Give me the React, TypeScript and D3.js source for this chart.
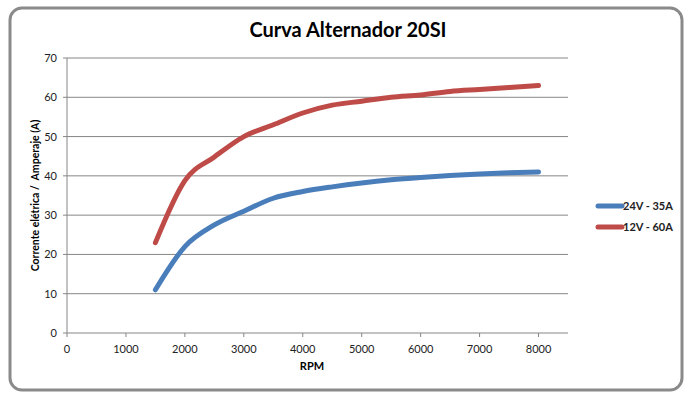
import * as d3 from "d3";

const rpm = [1500, 2000, 2500, 3000, 3500, 4000, 4500, 5000, 5500, 6000, 6500, 7000, 7500, 8000];
const amps24 = [11, 22, 27.5, 31, 34.3, 36, 37.2, 38.2, 39, 39.6, 40.1, 40.5, 40.8, 41];
const amps12 = [23, 38.8, 44.8, 50, 53, 56, 58, 59, 60, 60.6, 61.5, 62, 62.5, 63];
const xTicks = [0, 1000, 2000, 3000, 4000, 5000, 6000, 7000, 8000];
const yTicks = [0, 10, 20, 30, 40, 50, 60, 70];
const series = [
  { name: "24V - 35A", values: amps24, color: "#4a7ebb" },
  { name: "12V - 60A", values: amps12, color: "#be4b48" },
];

const width = 693;
const height = 397;
const font = "Lato, 'Open Sans', sans-serif";

export default function App() {
  const x = d3.scaleLinear().domain([0, 8500]).range([67, 568]);
  const y = d3.scaleLinear().domain([0, 70]).range([333, 58]);

  const line = d3
    .line<number>()
    .x((_d, i) => x(rpm[i]))
    .y((d) => y(d))
    .curve(d3.curveMonotoneX);

  return (
    <svg width={width} height={height} style={{ position: "absolute", left: 0, top: 0 }}>
      <rect x={0} y={0} width={width} height={height} fill="white" />
      <rect x={10} y={8} width={672} height={382} rx={12} fill="white" stroke="#8a8a8a" strokeWidth={3} />
      <text x={348} y={37} textAnchor="middle" fontFamily={font} fontWeight="bold" fontSize={20} fill="#000">
        Curva Alternador 20SI
      </text>

      {/* grid */}
      <g stroke="#868686" strokeWidth={1}>
        {yTicks.map((t) => (
          <line key={t} x1={63} x2={568} y1={y(t)} y2={y(t)} />
        ))}
        <line x1={67} x2={67} y1={y(70)} y2={y(0)} />
        {xTicks.map((t) => (
          <line key={t} x1={x(t)} x2={x(t)} y1={y(0)} y2={y(0) + 4} />
        ))}
      </g>

      <g fontFamily={font} fontSize={11} fill="#222">
        {yTicks.map((t) => (
          <text key={t} x={57} y={y(t) + 4} textAnchor="end">{t}</text>
        ))}
        {xTicks.map((t) => (
          <text key={t} x={x(t)} y={y(0) + 20} textAnchor="middle">{t}</text>
        ))}
      </g>

      <text x={312} y={370} textAnchor="middle" fontFamily={font} fontWeight="bold" fontSize={11}>RPM</text>
      <text
        transform={`translate(39,${y(35)}) rotate(-90)`}
        textAnchor="middle"
        fontFamily={font}
        fontWeight="bold"
        fontSize={10.5}
        style={{ whiteSpace: "pre" }}
      >
        {"Corrente elétrica /  Amperaje (A)"}
      </text>

      {series.map((s) => (
        <path
          key={s.name}
          d={line(s.values) ?? ""}
          fill="none"
          stroke={s.color}
          strokeWidth={5}
          strokeLinecap="round"
          strokeLinejoin="round"
        />
      ))}

      {series.map((s, i) => (
        <g key={s.name} transform={`translate(598,${206 + i * 21})`}>
          <line x1={0} x2={24} y1={0} y2={0} stroke={s.color} strokeWidth={5} strokeLinecap="round" />
          <text x={25} y={4} fontFamily={font} fontWeight="bold" fontSize={11} fill="#222">{s.name}</text>
        </g>
      ))}
    </svg>
  );
}
